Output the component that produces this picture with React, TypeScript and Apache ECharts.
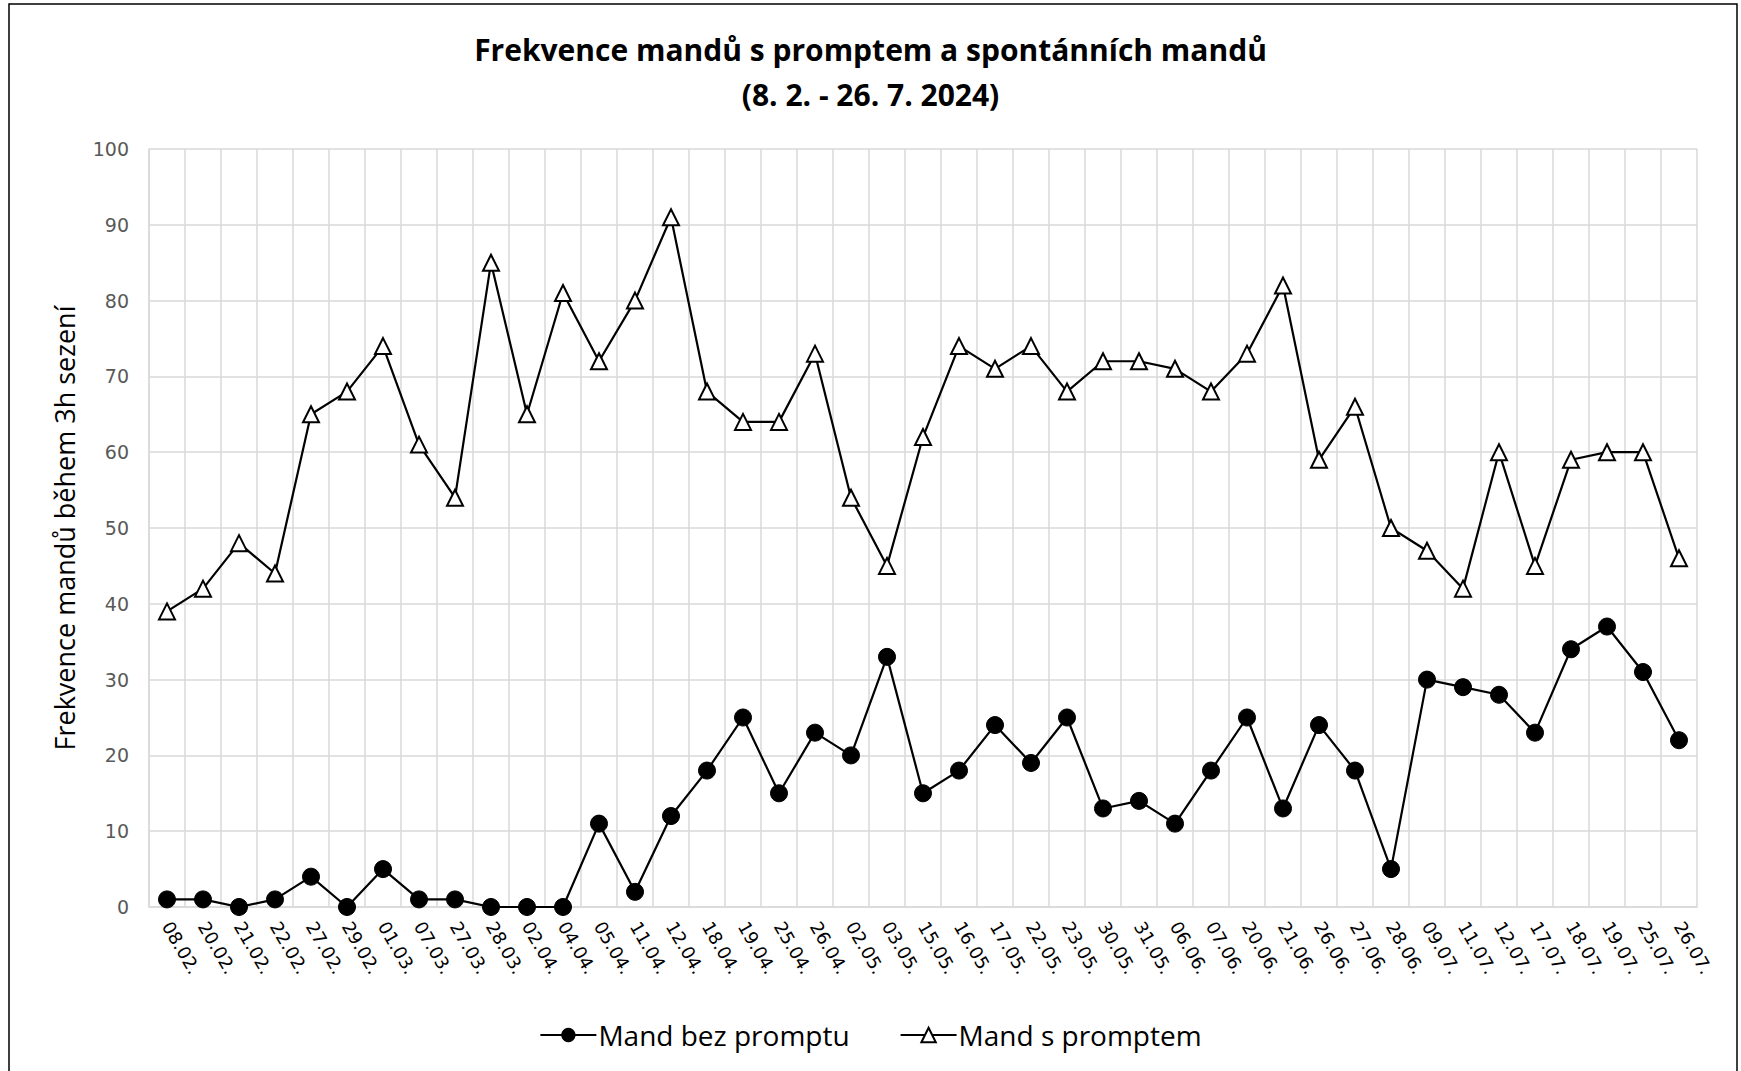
import React, { useEffect, useRef } from "react";
import * as echarts from "echarts";

const categories = [
  "08.02.", "20.02.", "21.02.", "22.02.", "27.02.", "29.02.", "01.03.", "07.03.", "27.03.", "28.03.",
  "02.04.", "04.04.", "05.04.", "11.04.", "12.04.", "18.04.", "19.04.", "25.04.", "26.04.", "02.05.",
  "03.05.", "15.05.", "16.05.", "17.05.", "22.05.", "23.05.", "30.05.", "31.05.", "06.06.", "07.06.",
  "20.06.", "21.06.", "26.06.", "27.06.", "28.06.", "09.07.", "11.07.", "12.07.", "17.07.", "18.07.",
  "19.07.", "25.07.", "26.07.",
];

const mandBezPromptu = [
  1, 1, 0, 1, 4, 0, 5, 1, 1, 0,
  0, 0, 11, 2, 12, 18, 25, 15, 23, 20,
  33, 15, 18, 24, 19, 25, 13, 14, 11, 18,
  25, 13, 24, 18, 5, 30, 29, 28, 23, 34,
  37, 31, 22,
];

const mandSPromptem = [
  39, 42, 48, 44, 65, 68, 74, 61, 54, 85,
  65, 81, 72, 80, 91, 68, 64, 64, 73, 54,
  45, 62, 74, 71, 74, 68, 72, 72, 71, 68,
  73, 82, 59, 66, 50, 47, 42, 60, 45, 59,
  60, 60, 46,
];

const yTicks = { min: 0, max: 100, interval: 10 };

export default function App() {
  const ref = useRef<HTMLDivElement>(null);
  useEffect(() => {
    document.body.style.margin = "0";
    const chart = echarts.init(ref.current!, null, { renderer: "svg" });
    const calibri = "'Open Sans', 'Noto Sans', sans-serif";
    chart.setOption({
      animation: false,
      backgroundColor: "#ffffff",
      title: {
        text: "Frekvence mandů s promptem a spontánních mandů\n(8. 2. - 26. 7. 2024)",
        left: "center",
        top: 22,
        textStyle: {
          fontFamily: calibri,
          fontWeight: "bold",
          fontSize: 30,
          lineHeight: 45,
          color: "#000",
        },
      },
      graphic: [
        {
          type: "rect",
          shape: { x: 9, y: 4, width: 1728, height: 1080 },
          style: { fill: "none", stroke: "#000", lineWidth: 1.5 },
          silent: true,
        },
      ],
      legend: {
        top: 1016,
        left: "center",
        itemWidth: 56,
        itemHeight: 18,
        itemGap: 50,
        textStyle: { fontFamily: calibri, fontSize: 28, color: "#000", padding: [0, 0, 0, -3] },
        data: ["Mand bez promptu", "Mand s promptem"],
      },
      grid: { left: 149, right: 44, top: 149, bottom: 164, containLabel: false },
      xAxis: {
        type: "category",
        data: categories,
        boundaryGap: true,
        axisLine: { show: true, lineStyle: { color: "#d9d9d9", width: 1.5 } },
        axisTick: { show: false },
        splitLine: { show: true, lineStyle: { color: "#d9d9d9", width: 1.5 } },
        axisLabel: {
          interval: 0,
          rotate: -60,
          margin: 16,
          fontFamily: "'DejaVu Sans', sans-serif",
          fontSize: 18,
          color: "#000",
        },
      },
      yAxis: {
        type: "value",
        min: yTicks.min,
        max: yTicks.max,
        interval: yTicks.interval,
        name: "Frekvence mandů během 3h sezení",
        nameLocation: "middle",
        nameGap: 71,
        nameTextStyle: { fontFamily: calibri, fontSize: 27, color: "#000" },
        axisLine: { show: true, lineStyle: { color: "#d9d9d9", width: 1.5 } },
        axisTick: { show: false },
        splitLine: { show: true, lineStyle: { color: "#d9d9d9", width: 1.5 } },
        axisLabel: {
          margin: 20,
          fontFamily: "'DejaVu Sans', sans-serif",
          fontSize: 19,
          color: "#595959",
        },
      },
      series: [
        {
          name: "Mand bez promptu",
          type: "line",
          data: mandBezPromptu,
          symbol: "circle",
          symbolSize: 17,
          lineStyle: { color: "#000", width: 2.2 },
          itemStyle: { color: "#000", borderColor: "#000" },
        },
        {
          name: "Mand s promptem",
          type: "line",
          data: mandSPromptem,
          symbol: "triangle",
          symbolSize: 16,
          lineStyle: { color: "#000", width: 2.2 },
          itemStyle: { color: "#fff", borderColor: "#000", borderWidth: 2 },
        },
      ],
    });
    return () => chart.dispose();
  }, []);
  return <div ref={ref} style={{ width: 1741, height: 1071 }} />;
}
